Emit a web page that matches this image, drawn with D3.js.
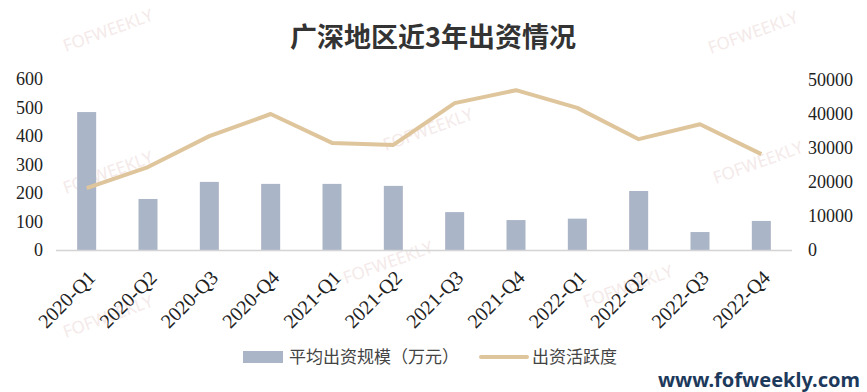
<!DOCTYPE html>
<html>
<head>
<meta charset="utf-8">
<script src="https://cdn.jsdelivr.net/npm/d3@7"></script>
<style>
  body { margin: 0; background: #fff; }
  svg { display: block; }
</style>
</head>
<body>
<div id="chart"></div>
<script>
// data
var quarters = ["2020-Q1", "2020-Q2", "2020-Q3", "2020-Q4", "2021-Q1", "2021-Q2",
  "2021-Q3", "2021-Q4", "2022-Q1", "2022-Q2", "2022-Q3", "2022-Q4"];
var avgSize = [484, 179, 239, 232, 232, 225, 133, 105, 110, 207, 63, 102];
var activity = [18200, 24400, 33500, 40000, 31500, 30900, 43200, 47000, 41800, 32600, 37000, 28200];
var leftTicks = [0, 100, 200, 300, 400, 500, 600];
var rightTicks = [0, 10000, 20000, 30000, 40000, 50000];

var svgWidth = 867;
var svgHeight = 392;

var margin = { top: 79, right: 75, bottom: 142, left: 56 };
var width = svgWidth - margin.left - margin.right;
var height = svgHeight - margin.top - margin.bottom;

var svg = d3.select("#chart")
  .append("svg")
  .attr("width", svgWidth)
  .attr("height", svgHeight);

// faint watermarks
var marks = [[110, 36], [755, 38], [110, 178], [430, 135], [390, 268], [630, 292], [760, 168], [110, 322]];
svg.selectAll(".wm")
  .data(marks)
  .enter()
  .append("text")
  .attr("class", "wm")
  .attr("transform", d => `translate(${d[0]},${d[1]}) rotate(-20)`)
  .attr("text-anchor", "middle")
  .style("font-family", "'Noto Sans', sans-serif")
  .style("font-size", "17px")
  .style("fill", "#f4eaea")
  .text("FOFWEEKLY");

// title
svg.append("text")
  .attr("x", 433)
  .attr("y", 47)
  .attr("text-anchor", "middle")
  .style("font-family", "'Noto Sans CJK SC', sans-serif")
  .style("font-size", "27px")
  .style("font-weight", "bold")
  .style("fill", "#333")
  .text("广深地区近3年出资情况");

var chartGroup = svg.append("g")
  .attr("transform", `translate(${margin.left}, ${margin.top})`);

var xScale = d3.scaleBand()
  .domain(quarters)
  .range([0, width])
  .paddingInner(0.69)
  .paddingOuter(0.345);

var yLeft = d3.scaleLinear().domain([0, 600]).range([height, 0]);
var yRight = d3.scaleLinear().domain([0, 50000]).range([height, 1]);

// axes (labels only)
var leftAxis = d3.axisLeft(yLeft).tickValues(leftTicks).tickSize(0).tickPadding(13);
var rightAxis = d3.axisRight(yRight).tickValues(rightTicks).tickSize(0).tickPadding(16)
  .tickFormat(d3.format("d"));

var gl = chartGroup.append("g").call(leftAxis);
var gr = chartGroup.append("g").attr("transform", `translate(${width},0)`).call(rightAxis);
[gl, gr].forEach(function(g) {
  g.select(".domain").remove();
  g.selectAll("text")
    .style("font-family", "'Liberation Serif', serif")
    .style("font-size", "18px")
    .style("fill", "#222");
});

// bars
chartGroup.selectAll("rect.bar")
  .data(avgSize)
  .enter()
  .append("rect")
  .attr("class", "bar")
  .attr("x", (d, i) => xScale(quarters[i]))
  .attr("width", xScale.bandwidth())
  .attr("y", d => yLeft(d))
  .attr("height", d => height - yLeft(d))
  .attr("fill", "#abb5c8");

// baseline
chartGroup.append("line")
  .attr("x1", 0)
  .attr("x2", width)
  .attr("y1", height + 0.5)
  .attr("y2", height + 0.5)
  .attr("stroke", "#d4d4d4")
  .attr("stroke-width", 1.5);

// line
var line = d3.line()
  .x((d, i) => xScale(quarters[i]) + xScale.bandwidth() / 2)
  .y(d => yRight(d));

chartGroup.append("path")
  .datum(activity)
  .attr("d", line)
  .attr("fill", "none")
  .attr("stroke", "#dfc59c")
  .attr("stroke-width", 4)
  .attr("stroke-linejoin", "round");

// x labels, rotated
var bottomAxis = d3.axisBottom(xScale).tickSize(0).tickPadding(0);
var gx = chartGroup.append("g")
  .attr("transform", `translate(0, ${height})`)
  .call(bottomAxis);
gx.select(".domain").remove();
gx.selectAll("text")
  .attr("text-anchor", "end")
  .attr("dy", 0)
  .attr("y", 0)
  .attr("transform", "translate(10, 29) rotate(-45)")
  .style("font-family", "'Liberation Serif', serif")
  .style("font-size", "20px")
  .style("fill", "#222");

// legend
var legend = svg.append("g").attr("transform", "translate(0, 357)");
legend.append("rect")
  .attr("x", 243).attr("y", -6)
  .attr("width", 40).attr("height", 12)
  .attr("fill", "#abb5c8");
legend.append("text")
  .attr("x", 289).attr("y", 6)
  .style("font-family", "'Noto Sans CJK SC', sans-serif")
  .style("font-size", "17px")
  .style("fill", "#444")
  .text("平均出资规模（万元）");
legend.append("line")
  .attr("x1", 481).attr("x2", 527)
  .attr("y1", 0).attr("y2", 0)
  .attr("stroke", "#dfc59c")
  .attr("stroke-width", 4)
  .attr("stroke-linecap", "round");
legend.append("text")
  .attr("x", 532).attr("y", 6)
  .style("font-family", "'Noto Sans CJK SC', sans-serif")
  .style("font-size", "17px")
  .style("fill", "#444")
  .text("出资活跃度");

// site mark
svg.append("text")
  .attr("x", 860)
  .attr("y", 387)
  .attr("text-anchor", "end")
  .style("font-family", "'Noto Sans', sans-serif")
  .style("font-size", "20px")
  .style("font-weight", "bold")
  .style("fill", "#1d3a5c")
  .text("www.fofweekly.com");
</script>
</body>
</html>
